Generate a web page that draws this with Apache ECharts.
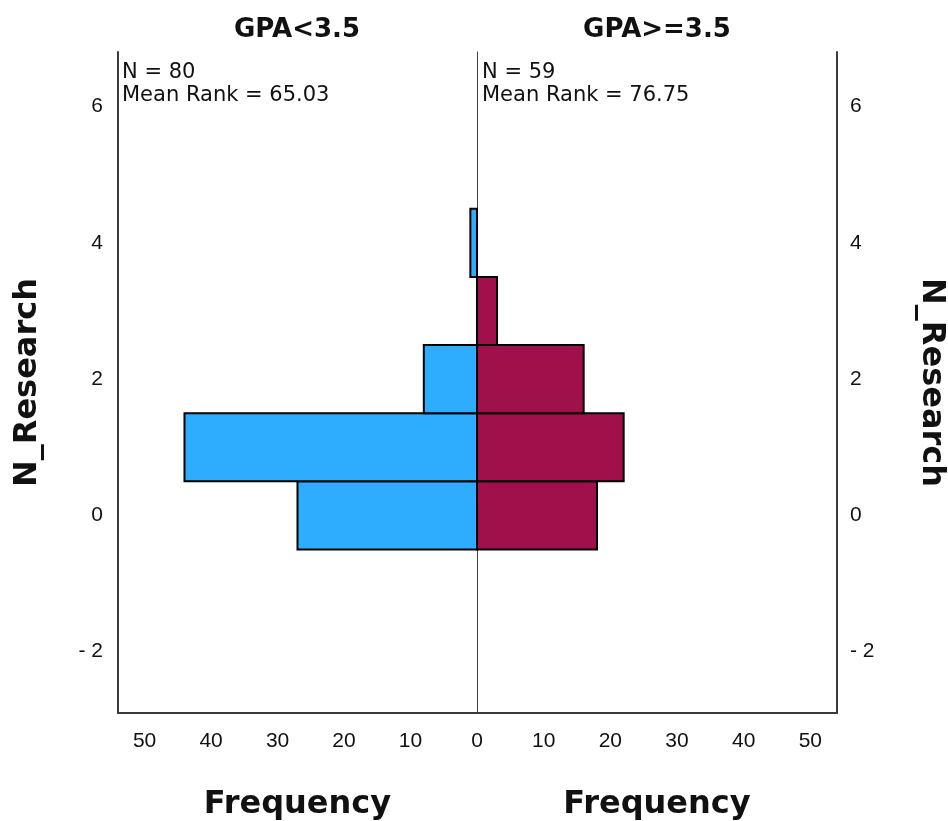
<!DOCTYPE html>
<html><head><meta charset="utf-8">
<script src="https://cdn.jsdelivr.net/npm/echarts@6/dist/echarts.min.js"></script>
<style>html,body{margin:0;padding:0;background:#fff}#c{width:948px;height:821px}</style>
</head><body><div id="c"></div>
<script>
const bins = [0, 1, 2, 3, 4];
const lowGPA = [27, 44, 8, 0, 1];
const highGPA = [18, 22, 16, 3, 0];
const panelTitles = ['GPA<3.5', 'GPA>=3.5'];
const panelN = [80, 59];
const panelMeanRank = ['65.03', '76.75'];
const yTicks = [-2, 0, 2, 4, 6];
const xTicks = [0, 10, 20, 30, 40, 50];

const chart = echarts.init(document.getElementById('c'), null, {renderer: 'canvas'});
const F = 'DejaVu Sans';
const TF = 'Liberation Sans';

function rectItem(color) {
  return function (params, api) {
    const y = api.value(0), v = api.value(1);
    if (!v) return null;
    const a = api.coord([0, y + 0.5]);
    const b = api.coord([v, y - 0.5]);
    return {
      type: 'rect',
      shape: {x: Math.min(a[0], b[0]), y: Math.min(a[1], b[1]), width: Math.abs(b[0] - a[0]), height: Math.abs(b[1] - a[1])},
      style: {fill: color, stroke: '#000', lineWidth: 2}
    };
  };
}
const yLabelFmt = v => (v < 0 ? '- ' + Math.abs(v) : String(v));
const xCommon = {
  type: 'value', min: 0, max: 54, interval: 10,
  splitLine: {show: false}, axisTick: {show: false},
  axisLine: {show: true, onZero: false, lineStyle: {color: '#3a3a3a', width: 2}},
  axisLabel: {customValues: xTicks, fontFamily: TF, fontSize: 21, color: '#111', margin: 18},
  name: 'Frequency', nameLocation: 'middle', nameGap: 76,
  nameTextStyle: {fontFamily: F, fontWeight: 'bold', fontSize: 32, color: '#111'}
};
const yCommon = {
  type: 'value', min: -2.9, max: 6.8,
  splitLine: {show: false}, axisTick: {show: false}
};

chart.setOption({
  animation: false,
  backgroundColor: '#fff',
  grid: [
    {left: 118, width: 359, top: 52, bottom: 108, outerBoundsMode: 'none', containLabel: false},
    {left: 477, width: 360, top: 52, bottom: 108, outerBoundsMode: 'none', containLabel: false}
  ],
  xAxis: [
    Object.assign({}, xCommon, {gridIndex: 0, inverse: true}),
    Object.assign({}, xCommon, {gridIndex: 1,
      axisLabel: Object.assign({}, xCommon.axisLabel, {customValues: xTicks.filter(v => v > 0)})})
  ],
  yAxis: [
    Object.assign({}, yCommon, {gridIndex: 0, position: 'left',
      axisLine: {show: true, onZero: false, lineStyle: {color: '#3a3a3a', width: 2}},
      axisLabel: {customValues: yTicks, formatter: yLabelFmt, fontFamily: TF, fontSize: 21, color: '#111', margin: 15},
      name: 'N_Research', nameLocation: 'middle', nameGap: 74, nameRotate: 90,
      nameTextStyle: {fontFamily: F, fontWeight: 'bold', fontSize: 32, color: '#111'}}),
    Object.assign({}, yCommon, {gridIndex: 1, position: 'right',
      axisLine: {show: true, onZero: false, lineStyle: {color: '#3a3a3a', width: 2}},
      axisLabel: {customValues: yTicks, formatter: yLabelFmt, fontFamily: TF, fontSize: 21, color: '#111', margin: 13},
      name: 'N_Research', nameLocation: 'middle', nameGap: 78, nameRotate: -90,
      nameTextStyle: {fontFamily: F, fontWeight: 'bold', fontSize: 32, color: '#111'}}),
    Object.assign({}, yCommon, {gridIndex: 1, position: 'left',
      axisLine: {show: true, onZero: false, lineStyle: {color: '#444', width: 1}},
      axisLabel: {show: false}})
  ],
  graphic: [
    {type: 'text', x: 297, y: 30, style: {text: panelTitles[0], font: 'bold 26px "DejaVu Sans"', fill: '#111', align: 'center', verticalAlign: 'middle'}},
    {type: 'text', x: 657, y: 30, style: {text: panelTitles[1], font: 'bold 26px "DejaVu Sans"', fill: '#111', align: 'center', verticalAlign: 'middle'}},
    {type: 'text', x: 122, y: 61, style: {text: 'N = ' + panelN[0] + '\nMean Rank = ' + panelMeanRank[0], font: '21px "DejaVu Sans"', lineHeight: 23, fill: '#111'}},
    {type: 'text', x: 482, y: 61, style: {text: 'N = ' + panelN[1] + '\nMean Rank = ' + panelMeanRank[1], font: '21px "DejaVu Sans"', lineHeight: 23, fill: '#111'}}
  ],
  series: [
    {type: 'custom', xAxisIndex: 0, yAxisIndex: 0, renderItem: rectItem('#2EADFE'),
      encode: {x: 1, y: 0}, data: bins.map((b, i) => [b, lowGPA[i]]), z: 5},
    {type: 'custom', xAxisIndex: 1, yAxisIndex: 1, renderItem: rectItem('#A0104B'),
      encode: {x: 1, y: 0}, data: bins.map((b, i) => [b, highGPA[i]]), z: 5}
  ]
});
</script></body></html>
